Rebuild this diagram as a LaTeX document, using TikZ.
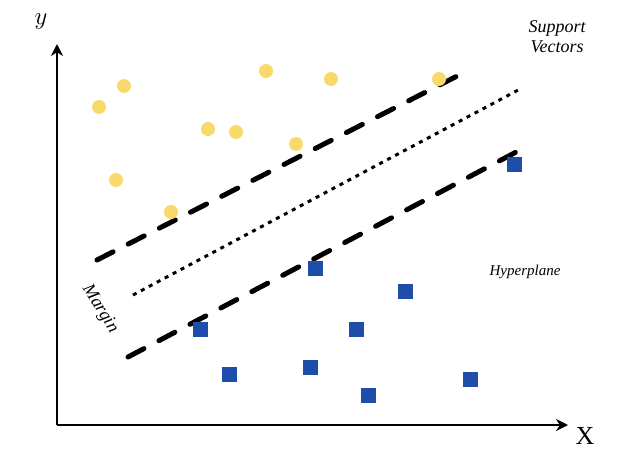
\documentclass[tikz,border=0pt]{standalone}
\usepackage{tikz}
\usetikzlibrary{arrows.meta, positioning}
\usepackage{xcolor}
\usepackage{fontspec}
\newfontfamily\labelfont{Liberation Serif}

\definecolor{dotyellow}{HTML}{F7D96C}
\definecolor{sqblue}{HTML}{1F4EAA}

\begin{document}
\begin{tikzpicture}[x=1pt, y=-1pt]
                \tikzstyle{pointA} = [shape=circle, fill=dotyellow, draw=none, minimum size=14pt, inner sep=0pt];
                \tikzstyle{pointB} = [shape=rectangle, fill=sqblue, draw=none, minimum size=15pt, inner sep=0pt];
                \tikzstyle{margin line} = [line width=5pt, line cap=round, dash pattern=on 18pt off 17pt];
                \tikzstyle{label} = [font=\labelfont\itshape\fontsize{18}{20}\selectfont, align=center, inner sep=1pt];

                \useasboundingbox (0,0) rectangle (620,455);

                % axes
                \coordinate (O) at (57,425);
                \coordinate (Ytop) at (57,44);
                \coordinate (Xend) at (568,425);
                \draw[-{Stealth[length=12pt,width=12pt]}, line width=2.8pt] (O) -- (Ytop);
                \draw[-{Stealth[length=12pt,width=12pt]}, line width=2.8pt] (O) -- (Xend);
                \node[font=\fontsize{30}{30}\selectfont](ylab) at (41,22) {$y$};
                \node[font=\labelfont\fontsize{26}{26}\selectfont](xlab) at (585,436) {X};

                % margins and hyperplane
                \coordinate (U1) at (97,260);
                \coordinate (U2) at (465,72);
                \coordinate (L1) at (128,357);
                \coordinate (L2) at (520,150);
                \coordinate (H1) at (133,295);
                \coordinate (H2) at (522,88);
                \draw[margin line] (U1) -- (U2);
                \draw[margin line] (L1) -- (L2);
                \draw[line width=3pt, dash pattern=on 4pt off 5pt] (H1) -- (H2);

                % class one
                \node[pointA](a1) at (99,107) {};
                \node[pointA](a2) at (124,86) {};
                \node[pointA](a3) at (116,180) {};
                \node[pointA](a4) at (171,212) {};
                \node[pointA](a5) at (208,129) {};
                \node[pointA](a6) at (236,132) {};
                \node[pointA](a7) at (266,71) {};
                \node[pointA](a8) at (296,144) {};
                \node[pointA](a9) at (331,79) {};
                \node[pointA](a10) at (439,79) {};

                % class two
                \node[pointB](b1) at (514,164) {};
                \node[pointB](b2) at (315,268) {};
                \node[pointB](b3) at (405,291) {};
                \node[pointB](b4) at (200,329) {};
                \node[pointB](b5) at (356,329) {};
                \node[pointB](b6) at (229,374) {};
                \node[pointB](b7) at (310,367) {};
                \node[pointB](b8) at (368,395) {};
                \node[pointB](b9) at (470,379) {};

                % labels
                \node[label](sv) at (557,37) {Support\\Vectors};
                \node[label, font=\labelfont\itshape\fontsize{15}{15}\selectfont](hp) at (525,272) {Hyperplane};
                \node[label, rotate=-58](mg) at (100,309) {Margin};
\end{tikzpicture}
\end{document}
